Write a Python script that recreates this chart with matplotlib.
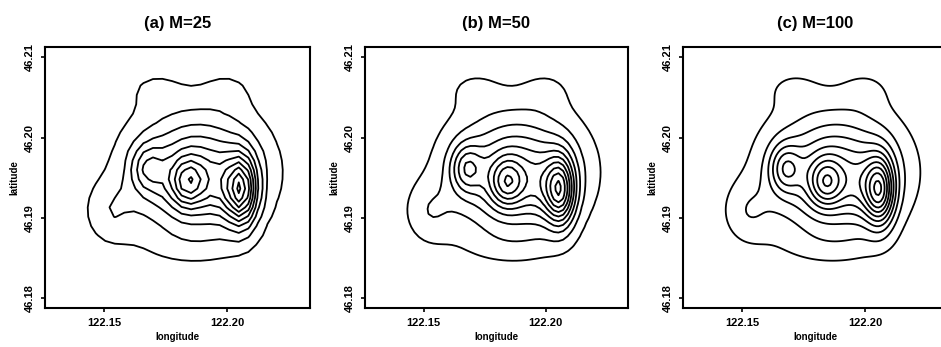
import numpy as np
import matplotlib
matplotlib.use("Agg")
import matplotlib.pyplot as plt

plt.rcParams['font.family'] = ['Liberation Sans', 'DejaVu Sans']

# ---- data ----
panel_titles = ["(a) M=25", "(b) M=50", "(c) M=100"]
grid_sizes = [25, 50, 100]
# mixture components: base, broad base, peak B, B shoulder, peak A, bump C,
# top lobes (2), lower-left lobe, bottom shelf
comp_lon = [122.1890, 122.1850, 122.2061, 122.1996, 122.1841, 122.1675, 122.1700, 122.2008, 122.1520, 122.1850]
comp_lat = [46.1956, 46.1960, 46.1934, 46.1936, 46.1944, 46.1962, 46.2062, 46.2060, 46.1906, 46.1865]
comp_sdlon = [0.0165, 0.0244, 0.0041, 0.0057, 0.0049, 0.0045, 0.0078, 0.0070, 0.0073, 0.0180]
comp_sdlat = [0.00475, 0.0074, 0.0030, 0.00275, 0.00213, 0.00210, 0.0017, 0.0017, 0.00275, 0.0016]
comp_weight_a = [0.42, 0.15, 0.62, 0.15, 0.38, 0.26, 0.065, 0.065, 0.135, 0.045]
comp_weight_b = [0.42, 0.15, 0.62, 0.15, 0.38, 0.33, 0.065, 0.065, 0.135, 0.045]
comp_weight_c = [0.42, 0.15, 0.62, 0.15, 0.38, 0.33, 0.065, 0.065, 0.135, 0.045]
contour_levels = [0.1, 0.2, 0.3, 0.4, 0.5, 0.6, 0.7, 0.8, 0.9, 1.0, 1.1, 1.2]
grid_lon_range = [122.135, 122.228]
grid_lat_range = [46.182, 46.210]
xticks = [122.15, 122.20]
xtick_labels = ["122.15", "122.20"]
yticks = [46.18, 46.19, 46.20, 46.21]
ytick_labels = ["46.18", "46.19", "46.20", "46.21"]
xlim = [122.126, 122.2337]
ylim = [46.1788, 46.2113]

weights_all = [comp_weight_a, comp_weight_b, comp_weight_c]

fig = plt.figure(figsize=(9.41, 3.47), dpi=100)
W, H = 941.0, 347.0
axes_px = [(45, 310), (365, 628), (683, 948)]
top_px, bot_px = 47, 308

for i in range(3):
    l, r = axes_px[i]
    ax = fig.add_axes([l / W, 1 - bot_px / H, (r - l) / W, (bot_px - top_px) / H])
    M = grid_sizes[i]
    gx = np.linspace(grid_lon_range[0], grid_lon_range[1], M)
    gy = np.linspace(grid_lat_range[0], grid_lat_range[1], M)
    X, Y = np.meshgrid(gx, gy)
    Z = np.zeros_like(X)
    for mx, my, sx, sy, w in zip(comp_lon, comp_lat, comp_sdlon, comp_sdlat, weights_all[i]):
        Z += w * np.exp(-0.5 * (((X - mx) / sx) ** 2 + ((Y - my) / sy) ** 2))
    ax.contour(X, Y, Z, levels=contour_levels, colors='black', linewidths=1.3)
    ax.set_xlim(xlim)
    ax.set_ylim(ylim)
    ax.set_xticks(xticks)
    ax.set_xticklabels(xtick_labels, fontsize=8, fontweight='bold')
    ax.set_yticks(yticks)
    ax.set_yticklabels(ytick_labels, fontsize=8, fontweight='bold', rotation=90, va='center')
    ax.tick_params(direction='out', length=3, width=1.2, pad=4)
    for s in ax.spines.values():
        s.set_linewidth(1.5)
    ax.set_xlabel("longitude", fontsize=7, fontweight='bold', labelpad=3)
    ax.set_ylabel("latitude", fontsize=7, fontweight='bold', labelpad=4)
    ax.set_title(panel_titles[i], fontsize=12, fontweight='bold', pad=14)

fig.savefig("out.png", dpi=100)
